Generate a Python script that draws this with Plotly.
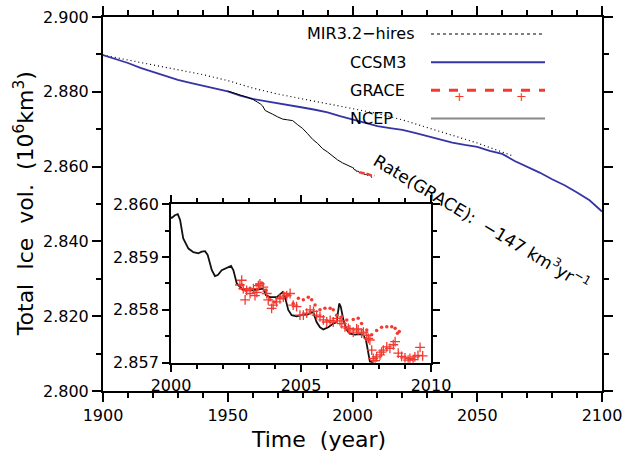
import plotly.graph_objects as go

# ---------------- data ----------------
ccsm3_year = [1900, 1905, 1910, 1915, 1920, 1925, 1930, 1935, 1940, 1945, 1950, 1955, 1960,
              1965, 1970, 1975, 1980, 1985, 1990, 1995, 2000, 2005, 2010, 2015, 2020, 2025,
              2030, 2035, 2040, 2045, 2050, 2055, 2060, 2065, 2070, 2075, 2080, 2085, 2090,
              2095, 2100]
ccsm3_val = [2.8898, 2.8888, 2.8877, 2.8864, 2.8853, 2.8842, 2.8832, 2.8824, 2.8816, 2.8809,
             2.8801, 2.8790, 2.8781, 2.8775, 2.8770, 2.8765, 2.8758, 2.8752, 2.8745, 2.8735,
             2.8726, 2.8716, 2.8708, 2.8703, 2.8698, 2.8690, 2.8681, 2.8674, 2.8664, 2.8658,
             2.8653, 2.8642, 2.8634, 2.8615, 2.8600, 2.8584, 2.8566, 2.8550, 2.8531, 2.8510,
             2.8480]

mir_year = [1900, 1910, 1920, 1930, 1940, 1950, 1960, 1970, 1980, 1990, 2000, 2010, 2020,
            2030, 2040, 2050, 2060, 2064]
mir_val = [2.8898, 2.8885, 2.8871, 2.8859, 2.8846, 2.8830, 2.8810, 2.8794, 2.8781, 2.8769,
           2.8755, 2.8742, 2.8725, 2.8704, 2.8685, 2.8663, 2.8639, 2.8629]

ncep_year = [1950, 1952, 1954, 1956, 1957, 1958, 1960, 1961, 1962, 1963, 1964, 1965, 1966,
             1968, 1970, 1972, 1974, 1976, 1978, 1980, 1982, 1984, 1986, 1988, 1990, 1992,
             1994, 1996, 1998,
             2000.03, 2000.15, 2000.26, 2000.35, 2000.47, 2000.67, 2000.86, 2001.05, 2001.18,
             2001.31, 2001.41, 2001.57, 2001.69, 2001.80, 2001.95, 2002.14, 2002.31, 2002.40,
             2002.53, 2002.72, 2002.85, 2003.10, 2003.36, 2003.55, 2003.65, 2003.81, 2004.07,
             2004.30, 2004.38, 2004.51, 2004.64, 2004.83, 2005.03, 2005.28, 2005.47, 2005.60,
             2005.73, 2005.86, 2006.05, 2006.24, 2006.37, 2006.47, 2006.53, 2006.63, 2006.76,
             2006.88, 2007.08, 2007.27, 2007.40, 2007.50, 2007.59, 2007.65, 2007.78]
ncep_val = [2.8802, 2.8798, 2.8795, 2.8789, 2.8788, 2.8785, 2.8780, 2.8777, 2.8772, 2.8768,
            2.8762, 2.8750, 2.8746, 2.8740, 2.8733, 2.8727, 2.8725, 2.8723, 2.8712, 2.8702,
            2.8688, 2.8673, 2.8662, 2.8648, 2.8639, 2.8628, 2.8618, 2.8610, 2.8603,
            2.85974, 2.85979, 2.85981, 2.85970, 2.85935, 2.85916, 2.85909, 2.85907, 2.85910,
            2.85911, 2.85904, 2.85875, 2.85864, 2.85866, 2.85875, 2.85880, 2.85883, 2.85875,
            2.85850, 2.85840, 2.85837, 2.85837, 2.85839, 2.85840, 2.85828, 2.85824, 2.85824,
            2.85834, 2.85825, 2.85800, 2.85790, 2.85788, 2.85790, 2.85792, 2.85796, 2.85777,
            2.85767, 2.85763, 2.85767, 2.85774, 2.85777, 2.85812, 2.85806, 2.85781, 2.85762,
            2.85755, 2.85753, 2.85754, 2.85752, 2.85743, 2.85718, 2.85702, 2.85700]

grace_pts_year = [2002.65, 2002.72, 2002.78, 2002.85, 2002.91, 2003.04, 2003.17, 2003.23,
                  2003.30, 2003.36, 2003.42, 2003.55, 2003.68, 2003.74, 2003.87, 2003.93,
                  2004.06, 2004.19, 2004.32, 2004.45, 2004.58, 2004.70, 2004.83, 2004.96,
                  2005.09, 2005.22, 2005.35, 2005.48, 2005.60, 2005.73, 2005.86, 2005.99,
                  2006.12, 2006.24, 2006.37, 2006.50, 2006.57, 2006.69, 2006.82, 2006.88,
                  2007.01, 2007.14, 2007.20, 2007.33, 2007.40, 2007.53, 2007.59, 2007.65,
                  2007.72, 2007.78, 2007.85, 2007.91, 2008.04, 2008.10, 2008.17, 2008.30,
                  2008.42, 2008.55, 2008.62, 2008.74, 2008.87, 2009.00, 2009.12, 2009.19,
                  2009.31, 2009.38, 2009.50, 2009.58, 2009.68]
grace_pts_val = [2.85847, 2.85856, 2.85840, 2.85819, 2.85837, 2.85831, 2.85840, 2.85827,
                 2.85833, 2.85846, 2.85849, 2.85843, 2.85831, 2.85819, 2.85803, 2.85809,
                 2.85815, 2.85821, 2.85824, 2.85827, 2.85831, 2.85809, 2.85806, 2.85790,
                 2.85790, 2.85794, 2.85800, 2.85797, 2.85790, 2.85787, 2.85781, 2.85777,
                 2.85780, 2.85777, 2.85784, 2.85779, 2.85774, 2.85768, 2.85765, 2.85762,
                 2.85758, 2.85764, 2.85762, 2.85756, 2.85758, 2.85752, 2.85746, 2.85743,
                 2.85724, 2.85708, 2.85704, 2.85711, 2.85715, 2.85720, 2.85724, 2.85730,
                 2.85727, 2.85734, 2.85740, 2.85718, 2.85712, 2.85709, 2.85705, 2.85708,
                 2.85706, 2.85711, 2.85714, 2.85729, 2.85713]

grace_line_year = [2002.72, 2002.88, 2003.04, 2003.30, 2003.49, 2003.65, 2003.81, 2004.00,
                   2004.19, 2004.35, 2004.51, 2004.70, 2004.90, 2005.09, 2005.28, 2005.41,
                   2005.54, 2005.73, 2005.92, 2006.12, 2006.24, 2006.37, 2006.57, 2006.76,
                   2007.01, 2007.20, 2007.33, 2007.53, 2007.72, 2007.91, 2008.10, 2008.30,
                   2008.49, 2008.62, 2008.71, 2008.78]
grace_line_val = [2.85847, 2.85837, 2.85841, 2.85847, 2.85851, 2.85837, 2.85819, 2.85815,
                  2.85825, 2.85831, 2.85828, 2.85812, 2.85822, 2.85819, 2.85824, 2.85819,
                  2.85809, 2.85800, 2.85803, 2.85803, 2.85800, 2.85790, 2.85787, 2.85781,
                  2.85782, 2.85784, 2.85774, 2.85762, 2.85753, 2.85761, 2.85767, 2.85768,
                  2.85768, 2.85765, 2.85756, 2.85759]

main_xticks = [1900, 1950, 2000, 2050, 2100]
main_yticks = [2.80, 2.82, 2.84, 2.86, 2.88, 2.90]
inset_xticks = [2000, 2005, 2010]
inset_yticks = [2.857, 2.858, 2.859, 2.860]

legend_labels = ["MIR3.2\u2212hires", "CCSM3", "GRACE", "NCEP"]
rate_text = "Rate(GRACE):  \u2212147 km<sup>3</sup>yr<sup>\u22121</sup>"

# ---------------- styles ----------------
BLUE = "#3434a6"
RED = "#f23a30"
FONT = "DejaVu Sans"

fig = go.Figure()

# main panel
fig.add_trace(go.Scatter(x=mir_year, y=mir_val, mode="lines",
                         line=dict(color="black", width=1.2, dash="1px,3px")))
fig.add_trace(go.Scatter(x=ccsm3_year, y=ccsm3_val, mode="lines",
                         line=dict(color=BLUE, width=1.8)))
fig.add_trace(go.Scatter(x=ncep_year, y=ncep_val, mode="lines",
                         line=dict(color="black", width=1)))
fig.add_trace(go.Scatter(x=grace_line_year, y=grace_line_val, mode="lines",
                         line=dict(color=RED, width=2.2, dash="6px,2px")))

# inset panel
fig.add_trace(go.Scatter(x=ncep_year, y=ncep_val, mode="lines", xaxis="x2", yaxis="y2",
                         line=dict(color="#111111", width=1.8)))
fig.add_trace(go.Scatter(x=grace_line_year, y=grace_line_val, mode="markers",
                         xaxis="x2", yaxis="y2",
                         marker=dict(symbol="circle", size=3.5, color=RED)))
fig.add_trace(go.Scatter(x=grace_pts_year, y=grace_pts_val, mode="markers",
                         xaxis="x2", yaxis="y2",
                         marker=dict(symbol="cross-thin", size=7,
                                     line=dict(color=RED, width=1.3))))

tickfont = dict(family=FONT, size=16, color="black")
axis_common = dict(showline=True, linecolor="black", linewidth=2, mirror="allticks",
                   ticks="outside", tickwidth=1.5, tickcolor="black", showgrid=False,
                   zeroline=False, tickfont=tickfont, automargin=False)

fig.update_layout(
    width=627, height=455,
    margin=dict(l=103, r=25, t=17, b=64),
    paper_bgcolor="white", plot_bgcolor="white",
    showlegend=False,
    xaxis=dict(domain=[0, 1], range=[1900, 2100], tickvals=main_xticks, ticklen=9,
               minor=dict(dtick=10, tick0=1900, ticklen=5, ticks="outside", tickwidth=1.5,
                          tickcolor="black"),
               **axis_common),
    yaxis=dict(domain=[0, 1], range=[2.8, 2.9], tickvals=main_yticks, tickformat=".3f",
               ticklen=9,
               minor=dict(dtick=0.01, tick0=2.8, ticklen=5, ticks="outside", tickwidth=1.5,
                          tickcolor="black"),
               **axis_common),
    xaxis2=dict(domain=[0.1363, 0.6573], anchor="y2", range=[2000, 2010],
                tickvals=inset_xticks, ticklen=7,
                minor=dict(dtick=1, tick0=2000, ticklen=4, ticks="outside", tickwidth=1.5,
                           tickcolor="black"),
                **axis_common),
    yaxis2=dict(domain=[0.0756, 0.4996], anchor="x2", range=[2.857, 2.860],
                tickvals=inset_yticks, tickformat=".3f", ticklen=7,
                minor=dict(dtick=0.0005, tick0=2.857, ticklen=4, ticks="outside",
                           tickwidth=1.5, tickcolor="black"),
                **axis_common),
)

annotations = []
shapes = []


def px2paper(px, py):
    return (px - 103) / 499.0, (391 - py) / 374.3


# axis titles
ax, ay = px2paper(318, 440)
annotations.append(dict(text="Time  (year)", x=ax, y=ay, xref="paper", yref="paper",
                        showarrow=False, xanchor="center", yanchor="middle",
                        font=dict(family=FONT, size=22, color="black")))
ax, ay = px2paper(24, 204)
annotations.append(dict(text="Total  Ice  vol.  (10<sup>6</sup>km<sup>3</sup>)", x=ax, y=ay,
                        xref="paper", yref="paper", showarrow=False, textangle=-90,
                        xanchor="center", yanchor="middle",
                        font=dict(family=FONT, size=22, color="black")))

# rate annotation
ax, ay = px2paper(482, 222)
annotations.append(dict(text=rate_text, x=ax, y=ay, xref="paper", yref="paper",
                        showarrow=False, textangle=31, xanchor="center", yanchor="middle",
                        font=dict(family=FONT, size=17, color="black")))

# custom legend (text left, sample right)
leg_y = [33.7, 62, 90, 118.3]
leg_text_x = [(416, "right"), (348, "left"), (348, "left"), (348, "left")]
for lab, py, (tx, anc) in zip(legend_labels, leg_y, leg_text_x):
    ax, ay = px2paper(tx, py)
    annotations.append(dict(text=lab, x=ax, y=ay, xref="paper", yref="paper",
                            showarrow=False, xanchor=anc, yanchor="middle",
                            font=dict(family=FONT, size=16, color="black")))

x0, _ = px2paper(431, 0)
x1, _ = px2paper(545, 0)
sample_styles = [dict(color="black", width=1.2, dash="dot"),
                 dict(color=BLUE, width=2),
                 dict(color=RED, width=3, dash="dash"),
                 dict(color="#888888", width=2)]
for py, st in zip(leg_y, sample_styles):
    _, ay = px2paper(0, py)
    shapes.append(dict(type="line", xref="paper", yref="paper", x0=x0, x1=x1, y0=ay, y1=ay,
                       line=st))
for mx in (459.3, 521.7):
    ax, ay = px2paper(mx, 96)
    annotations.append(dict(text="+", x=ax, y=ay, xref="paper", yref="paper",
                            showarrow=False, xanchor="center", yanchor="middle",
                            font=dict(family=FONT, size=13, color=RED)))

fig.update_layout(annotations=annotations, shapes=shapes)
fig.write_html("out.html", config={"displayModeBar": False},
               post_script="document.body.style.margin='0';document.body.style.overflow='hidden';")
